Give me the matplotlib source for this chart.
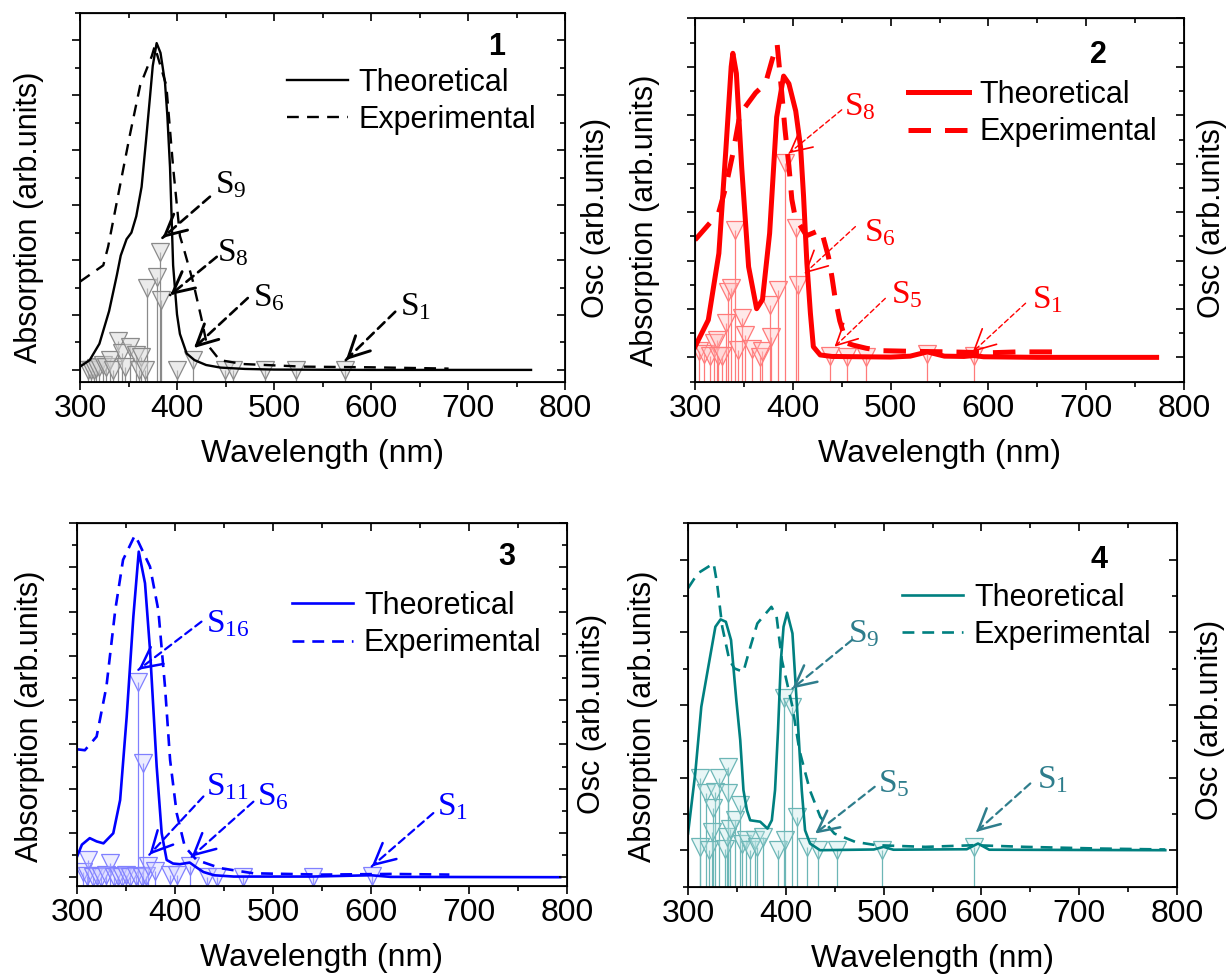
import numpy as np
import matplotlib.pyplot as plt
from matplotlib.ticker import MultipleLocator
from matplotlib.lines import Line2D

plt.rcParams['font.family'] = ['Liberation Sans', 'DejaVu Sans']
plt.rcParams['mathtext.fontset'] = 'custom'
plt.rcParams['mathtext.rm'] = 'Liberation Serif'
plt.rcParams['mathtext.it'] = 'Liberation Serif:italic'

# ---------------- data (absorption normalised to theoretical peak) ----------------
# compound 1
theo1_wl = [300, 310, 320, 330, 338, 342, 348, 353, 358, 363.5, 368, 372, 375, 379, 383,
            387.6, 390, 392.8, 396, 400, 403, 410, 418, 430, 445, 470, 500, 600, 765]
theo1 = [0.01, 0.03, 0.08, 0.18, 0.29, 0.35, 0.40, 0.42, 0.47, 0.56, 0.70, 0.83, 0.93, 1.0, 0.97,
         0.88, 0.78, 0.62, 0.32, 0.17, 0.11, 0.05, 0.03, 0.015, 0.007, 0.003, 0.001, 0.0, 0.0]
exp1_wl = [300, 324, 329, 341, 351.5, 362, 374, 377, 389, 396, 403, 408, 416.5, 425,
           430.6, 444, 468, 530, 600, 661, 680]
exp1 = [0.27, 0.32, 0.377, 0.56, 0.72, 0.87, 0.96, 0.99, 0.87, 0.62, 0.41, 0.36, 0.27, 0.16,
        0.08, 0.03, 0.018, 0.01, 0.008, 0.005, 0.004]
osc1_wl = [308.6, 311, 314, 317, 320, 324, 327, 331, 334, 339.5, 343, 346, 351.5, 358, 360.5,
           363, 367, 368.7, 379, 382.5, 383, 400, 417, 449.5, 458, 491, 523, 573]
osc1 = [0.0, 0.0, 0.0, 0.005, 0.008, 0.015, 0.01, 0.03, 0.0, 0.087, 0.052, 0.01, 0.071, 0.046, 0.0,
        0.04, 0.0, 0.25, 0.285, 0.362, 0.214, 0.0, 0.03, 0.0, 0.0, 0.0, 0.0, 0.0]

# compound 2
theo2_wl = [300, 313.6, 324.4, 331.5, 337, 338.7, 342.3, 347.7, 354.8, 363, 369, 376.3, 383.5,
            390.6, 396, 403, 408, 411, 414.4, 418, 421, 428, 440, 500, 520, 537.6, 555, 575,
            585, 595, 650, 772]
theo2 = [0.035, 0.123, 0.342, 0.68, 0.956, 1.0, 0.934, 0.627, 0.298, 0.16, 0.19, 0.408, 0.79,
         0.925, 0.9, 0.81, 0.69, 0.53, 0.31, 0.145, 0.035, 0.008, 0.003, 0.001, 0.004, 0.018,
         0.004, 0.003, 0.006, 0.002, 0.0, 0.0]
exp2_wl = [300, 324, 331.5, 338.7, 346, 362, 372, 379, 384, 389, 392, 396, 399, 402.5, 414, 429,
           436.5, 440, 443, 448, 455, 462, 475, 490, 520, 560, 600, 630, 668]
exp2 = [0.386, 0.474, 0.56, 0.67, 0.80, 0.87, 0.90, 0.98, 1.03, 0.86, 0.75, 0.63, 0.52, 0.46,
        0.40, 0.42, 0.33, 0.265, 0.2, 0.12, 0.047, 0.04, 0.03, 0.022, 0.02, 0.018, 0.015,
        0.018, 0.018]
osc2_wl = [304.6, 309.6, 315, 319, 322.6, 324, 328, 331.5, 333.3, 337, 340.5, 344, 347.7, 351.3,
           358.4, 366, 369, 376.3, 378, 385, 392.5, 403, 405, 438.4, 455, 475, 537.6, 585.3]
osc2 = [0.02, 0.01, 0.005, 0.046, 0.057, 0.005, 0.005, 0.112, 0.216, 0.227, 0.419, 0.024, 0.128,
        0.073, 0.027, 0.0, 0.02, 0.172, 0.068, 0.221, 0.638, 0.424, 0.238, 0.005, 0.0, 0.0,
        0.01, 0.005]

# compound 3
theo3_wl = [300, 305, 313, 320, 327, 337, 344, 350.7, 357.5, 363, 369.4, 374.5, 381.3, 386.4,
            391.5, 398, 405, 415, 422, 429, 440, 460, 540, 600, 620, 793]
theo3 = [0.063, 0.1, 0.12, 0.11, 0.104, 0.135, 0.237, 0.493, 0.8, 1.0, 0.903, 0.698, 0.34,
         0.135, 0.053, 0.042, 0.04, 0.045, 0.03, 0.016, 0.006, 0.002, 0.002, 0.006, 0.001, 0.0]
exp3_wl = [300, 308, 320, 330, 339, 347, 359, 362.6, 374.5, 383, 389.8, 395, 401.7, 410, 422,
           446, 480, 550, 620, 680]
exp3 = [0.393, 0.39, 0.432, 0.585, 0.82, 0.975, 1.05, 1.03, 0.954, 0.82, 0.585, 0.36, 0.197,
        0.094, 0.053, 0.028, 0.012, 0.008, 0.01, 0.008]
osc3_wl = [306.5, 310, 311.5, 316, 320, 324, 330, 333.7, 338, 342, 346, 350, 354, 360, 362, 366,
           367, 370, 372.8, 379.6, 395, 401.7, 415, 432.3, 442.5, 469.7, 541, 600.7]
osc3 = [0.015, 0.005, 0.053, 0.0, 0.005, 0.0, 0.008, 0.043, 0.0, 0.005, 0.0, 0.008, 0.0, 0.005,
        0.601, 0.0, 0.35, 0.005, 0.033, 0.02, 0.006, 0.006, 0.033, 0.0, 0.0, 0.0, 0.0, 0.005]

# compound 4
theo4_wl = [300, 307.4, 313.6, 320.8, 328, 333.3, 338.7, 344, 349.4, 353.4, 356.7, 360.2, 363.6,
            373.8, 381.3, 385.7, 389, 392, 395, 397.7, 401.4, 406.8, 411.5, 416.3, 419.7, 424.8,
            435, 490, 500, 510, 585, 596.5, 608, 788]
theo4 = [0.07, 0.323, 0.604, 0.773, 0.941, 0.972, 0.962, 0.885, 0.632, 0.464, 0.253, 0.169,
         0.126, 0.12, 0.091, 0.126, 0.253, 0.5, 0.8, 0.941, 1.0, 0.913, 0.6, 0.253, 0.084,
         0.028, 0.0, 0.003, 0.014, 0.002, 0.004, 0.028, 0.002, 0.0]
exp4_wl = [300, 310, 326.2, 329.7, 335, 342.3, 347.7, 356.6, 363.8, 370.9, 385.3, 390.6, 396,
           406.8, 413.9, 424.6, 435.3, 449.7, 471, 492.7, 542.7, 593, 645, 720, 788]
exp4 = [1.103, 1.166, 1.208, 1.124, 0.941, 0.8, 0.765, 0.751, 0.857, 0.955, 1.025, 0.983, 0.8,
        0.604, 0.421, 0.253, 0.14, 0.07, 0.035, 0.021, 0.014, 0.021, 0.014, 0.007, 0.003]
osc4_wl = [311.8, 312.6, 318.7, 321, 324.5, 325.5, 327.9, 332.2, 338, 339.8, 340.4, 341.4, 343.2,
           348.3, 352.7, 355.1, 359.5, 363.6, 368.7, 370.4, 377.1, 392.4, 397.8, 399.3, 406,
           411.2, 421.4, 433.3, 452, 498, 592.9]
osc4 = [0.302, 0.014, 0.239, 0.0, 0.077, 0.176, 0.246, 0.302, 0.005, 0.056, 0.239, 0.351, 0.091,
        0.126, 0.19, 0.028, 0.045, 0.0, 0.042, 0.014, 0.056, 0.0, 0.639, 0.042, 0.604, 0.14,
        0.014, 0.0, 0.0, 0.0, 0.014]

# state labels: (name, text position, arrow start, arrow tip)
states1 = [('9', (439, 0.566), (434, 0.53), (385, 0.404)),
           ('8', (441, 0.358), (441, 0.346), (393, 0.229)),
           ('6', (478, 0.22), (473, 0.22), (417.5, 0.067)),
           ('1', (630, 0.193), (625, 0.178), (574, 0.03))]
states2 = [('8', (452, 0.824), (450, 0.814), (396, 0.671)),
           ('6', (473, 0.41), (464, 0.43), (412, 0.276)),
           ('5', (500, 0.205), (494.6, 0.194), (442.7, 0.035)),
           ('1', (645, 0.19), (638, 0.178), (584, 0.018))]
states3 = [('16', (431.6, 0.78), (427, 0.785), (362.6, 0.637)),
           ('11', (431.6, 0.278), (429, 0.248), (373.8, 0.069)),
           ('6', (483.4, 0.248), (480, 0.232), (417, 0.063)),
           ('1', (667, 0.217), (663.6, 0.197), (600.7, 0.033))]
states4 = [('9', (464, 0.913), (467.6, 0.885), (406.8, 0.681)),
           ('5', (494.4, 0.281), (490.9, 0.267), (430, 0.07)),
           ('1', (657.3, 0.295), (650, 0.281), (594.6, 0.077))]

W, H = 1230, 974
fig = plt.figure(figsize=(W / 100, H / 100), dpi=100)


def add_px_axes(left, top, right, bottom):
    return fig.add_axes([left / W, 1 - bottom / H, (right - left) / W, (bottom - top) / H])


def draw_panel(ax, theo_wl, theo, exp_wl, exp, osc_wl, osc, states, number, ylim, ystep,
               color, tri_edge, tri_face, lw, dashes, ann_color, ann_lw, legend_xy, number_xy):
    ax.set_xlim(300, 800)
    ax.set_ylim(*ylim)

    # oscillator strengths: stems from the bottom of the frame
    ax.vlines(osc_wl, ylim[0], osc, colors=tri_edge, lw=0.9, zorder=1)
    ax.plot(osc_wl, osc, ls='none', marker='v', ms=13, mfc=tri_face, mec=tri_edge, mew=0.9,
            zorder=2)

    ax.plot(theo_wl, theo, color=color, lw=lw, solid_joinstyle='round', zorder=3)
    ax.plot(exp_wl, exp, color=color, lw=lw, dashes=dashes, zorder=3)

    for name, txy, sxy, tip in states:
        ax.annotate('', xy=tip, xytext=sxy,
                    arrowprops=dict(arrowstyle='-', color=ann_color, lw=ann_lw,
                                    linestyle=(0, (3.5, 2.2)), shrinkA=0, shrinkB=0),
                    zorder=4)
        back = (tip[0] + 0.06 * (sxy[0] - tip[0]), tip[1] + 0.06 * (sxy[1] - tip[1]))
        ax.annotate('', xy=tip, xytext=back,
                    arrowprops=dict(arrowstyle='->,head_length=0.75,head_width=0.38',
                                    color=ann_color, lw=ann_lw + 0.2, shrinkA=0, shrinkB=0,
                                    mutation_scale=20),
                    zorder=4)
        ax.text(txy[0], txy[1], r'$\mathrm{S}_{%s}$' % name, color=ann_color, fontsize=24,
                ha='left', va='center', zorder=5)

    ax.text(number_xy[0], number_xy[1], number, transform=ax.transAxes, fontsize=22,
            fontweight='bold', ha='center', va='center')

    handles = [Line2D([], [], color=color, lw=lw),
               Line2D([], [], color=color, lw=lw, dashes=dashes)]
    ax.legend(handles, ['Theoretical', 'Experimental'], loc='upper left',
              bbox_to_anchor=legend_xy, frameon=False, fontsize=22, handlelength=2.0,
              handletextpad=0.35, labelspacing=0.24, borderpad=0, borderaxespad=0)

    # frame and ticks: outward at bottom/left, inward at top/right
    for sp in ax.spines.values():
        sp.set_linewidth(1.3)
    ax.xaxis.set_major_locator(MultipleLocator(100))
    ax.xaxis.set_minor_locator(MultipleLocator(50))
    ax.yaxis.set_major_locator(MultipleLocator(2 * ystep))
    ax.yaxis.set_minor_locator(MultipleLocator(ystep))
    ax.tick_params(axis='both', which='both', direction='out', top=False, right=False,
                   labelleft=False, labelsize=23, pad=2.5, width=1.2)
    ax.tick_params(which='major', length=6)
    ax.tick_params(which='minor', length=3.5)

    top = ax.secondary_xaxis('top')
    top.xaxis.set_major_locator(MultipleLocator(100))
    top.xaxis.set_minor_locator(MultipleLocator(50))
    top.tick_params(axis='x', which='both', direction='in', labeltop=False, width=1.2)
    top.tick_params(which='major', length=6)
    top.tick_params(which='minor', length=3.5)

    right = ax.twinx()
    right.set_ylim(*ylim)
    right.yaxis.set_major_locator(MultipleLocator(2 * ystep))
    right.yaxis.set_minor_locator(MultipleLocator(ystep))
    right.tick_params(axis='y', which='both', direction='in', labelright=False, width=1.2)
    right.tick_params(which='major', length=6)
    right.tick_params(which='minor', length=3.5)

    ax.set_xlabel('Wavelength (nm)', fontsize=23, labelpad=11)


ax1 = add_px_axes(80, 13, 565, 382)
draw_panel(ax1, theo1_wl, theo1, exp1_wl, exp1, osc1_wl, osc1, states1, '1',
           (-0.037, 1.092), 0.084, 'black', '#8a8a8a', (0.85, 0.85, 0.85, 0.5),
           1.7, (5, 3.5), 'black', 1.9, (0.426, 0.852), (0.859, 0.909))

ax2 = add_px_axes(695, 18, 1184, 382)
draw_panel(ax2, theo2_wl, theo2, exp2_wl, exp2, osc2_wl, osc2, states2, '2',
           (-0.081, 1.116), 0.0796, '#ff0000', '#ff7a7a', (1.0, 0.75, 0.75, 0.35),
           3.6, (4.5, 2.8), '#ff0000', 1.0, (0.435, 0.83), (0.826, 0.898))

ax3 = add_px_axes(77, 523, 567, 886)
draw_panel(ax3, theo3_wl, theo3, exp3_wl, exp3, osc3_wl, osc3, states3, '3',
           (-0.027, 1.088), 0.068, '#0000ff', '#8080ff', (0.8, 0.8, 1.0, 0.35),
           1.9, (4.5, 3), '#0000ff', 1.6, (0.439, 0.813), (0.877, 0.907))

ax4 = add_px_axes(688, 523, 1177, 887)
draw_panel(ax4, theo4_wl, theo4, exp4_wl, exp4, osc4_wl, osc4, states4, '4',
           (-0.155, 1.378), 0.153, '#008080', '#6cb6b6', (0.75, 0.9, 0.9, 0.35),
           1.9, (4.5, 3), '#2e7d8c', 1.6, (0.438, 0.836), (0.84, 0.898))

# axis titles placed in figure pixels
ylabels = [(29, 217, 'Absorption (arb.units)'), (596, 218, 'Osc (arb.units)'),
           (645, 220, 'Absorption (arb.units)'), (1212, 218, 'Osc (arb.units)'),
           (30, 716, 'Absorption (arb.units)'), (592, 714, 'Osc (arb.units)'),
           (643, 716, 'Absorption (arb.units)'), (1210, 720, 'Osc (arb.units)')]
for x, y, s in ylabels:
    fig.text(x / W, 1 - y / H, s, rotation=90, ha='center', va='center', fontsize=22)

fig.savefig('out.png', dpi=100)
